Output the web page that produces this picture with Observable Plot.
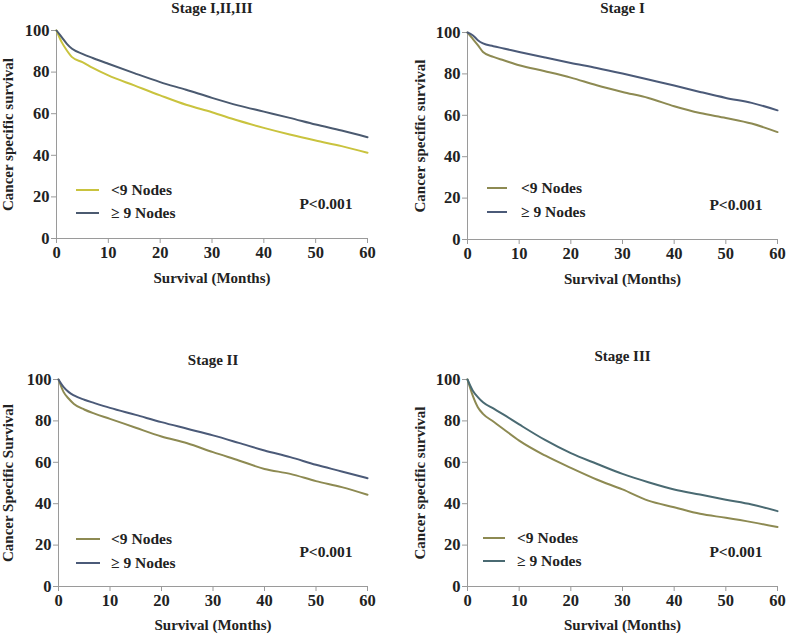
<!DOCTYPE html>
<html><head><meta charset="utf-8">
<script src="https://cdn.jsdelivr.net/npm/d3@7"></script>
<script src="https://cdn.jsdelivr.net/npm/@observablehq/plot@0.6"></script>
<style>
body{margin:0;background:#fff;}
#wrap{position:relative;width:787px;height:635px;overflow:hidden;background:#fff;}
.panel{position:absolute;}
.panel svg{overflow:visible;}
</style></head>
<body><div id="wrap"></div>
<script>
const months = [0, 1, 2, 3, 5, 7, 10, 15, 20, 25, 30, 35, 40, 45, 50, 55, 60];

// Stage I,II,III
const allLow  = [100, 94.4, 90.4, 87.2, 84.8, 82.0, 78.4, 73.6, 68.8, 64.3, 60.7, 56.7, 53.2, 50.0, 47.1, 44.4, 41.2];
const allHigh = [100, 96.8, 93.6, 91.2, 88.8, 86.8, 84.0, 79.5, 75.2, 71.5, 67.6, 64.0, 61.0, 58.0, 54.8, 51.9, 48.7];
// Stage I
const s1Low   = [100, 97.0, 93.9, 90.6, 88.2, 86.6, 84.2, 81.3, 78.2, 74.5, 71.3, 68.4, 64.4, 61.1, 58.7, 56.0, 51.9];
const s1High  = [100, 98.7, 96.3, 94.7, 93.4, 92.3, 90.6, 87.9, 85.3, 82.9, 80.2, 77.3, 74.4, 71.3, 68.4, 66.0, 62.4];
// Stage II
const s2Low   = [100, 93.9, 90.7, 88.2, 85.5, 83.5, 81.0, 76.7, 72.5, 69.2, 64.9, 60.9, 56.8, 54.4, 50.9, 48.0, 44.3];
const s2High  = [100, 96.3, 93.9, 92.3, 90.2, 88.6, 86.3, 82.9, 79.4, 76.2, 73.0, 69.4, 65.7, 62.5, 58.8, 55.6, 52.3];
// Stage III
const s3Low   = [100, 92.3, 86.6, 83.4, 79.7, 76.0, 70.5, 63.3, 57.3, 51.7, 46.9, 41.5, 38.3, 35.1, 33.2, 31.1, 28.7];
const s3High  = [100, 94.7, 91.5, 89.0, 86.0, 83.0, 78.3, 70.8, 64.4, 59.3, 54.4, 50.4, 46.9, 44.4, 41.9, 39.6, 36.4];

const xTicks = [0, 10, 20, 30, 40, 50, 60];
const yTicks = [0, 20, 40, 60, 80, 100];
const groups = ["<9 Nodes", "\u2265 9 Nodes"];
const pText = "P<0.001";
const xTitle = "Survival (Months)";

const FONT = "'Liberation Serif', 'Times New Roman', serif";

const panels = [
  {title: "Stage I,II,III", ylabel: "Cancer specific survival", low: allLow, high: allHigh,
   colors: ["#c9c33e", "#4b5a70"], left: 0, top: 0, width: 390, height: 300,
   m: {l: 56, r: 23, t: 30, b: 62}, titleDy: -22, ylabDx: -48, xlabDy: 40,
   leg: {x1: 76, x2: 99, tx: 111, y: [190, 213]}, p: {x: 326, y: 204}},
  {title: "Stage I", ylabel: "Cancer specific survival", low: s1Low, high: s1High,
   colors: ["#8d8a52", "#4b5a78"], left: 395, top: 0, width: 392, height: 300,
   m: {l: 72, r: 10, t: 32, b: 61}, titleDy: -24, ylabDx: -47, xlabDy: 40,
   leg: {x1: 92, x2: 112, tx: 126, y: [188, 212]}, p: {x: 341, y: 205}},
  {title: "Stage II", ylabel: "Cancer Specific Survival", low: s2Low, high: s2High,
   colors: ["#8d8a52", "#4b5a78"], left: 0, top: 330, width: 390, height: 305,
   m: {l: 58, r: 23, t: 49, b: 49}, titleDy: -19, ylabDx: -50, xlabDy: 39,
   leg: {x1: 76, x2: 100, tx: 111, y: [209, 233]}, p: {x: 326, y: 222}},
  {title: "Stage III", ylabel: "Cancer specific survival", low: s3Low, high: s3High,
   colors: ["#8d8a52", "#4a6a72"], left: 395, top: 330, width: 392, height: 305,
   m: {l: 72, r: 10, t: 49, b: 49}, titleDy: -23, ylabDx: -47, xlabDy: 39,
   leg: {x1: 88, x2: 110, tx: 122, y: [208, 231]}, p: {x: 341, y: 222}}
];

const wrap = document.getElementById("wrap");

for (const P of panels) {
  const data = [];
  months.forEach((m, i) => {
    data.push({month: m, surv: P.low[i], group: groups[0]});
    data.push({month: m, surv: P.high[i], group: groups[1]});
  });
  const chart = Plot.plot({
    width: P.width, height: P.height,
    marginLeft: P.m.l, marginRight: P.m.r, marginTop: P.m.t, marginBottom: P.m.b,
    style: {fontFamily: FONT, background: "transparent", overflow: "visible"},
    x: {domain: [0, 60], ticks: xTicks, label: null},
    y: {domain: [0, 100], ticks: yTicks, label: null},
    color: {domain: groups, range: P.colors},
    marks: [
      Plot.ruleX([0], {stroke: "#9a9a9a", strokeWidth: 1}),
      Plot.ruleY([0], {stroke: "#9a9a9a", strokeWidth: 1}),
      Plot.axisX({ticks: xTicks, tickSize: 5, tickPadding: 3, stroke: "#9a9a9a",
        fontSize: 16.5, fontWeight: "bold", fill: "#222", label: null}),
      Plot.axisY({ticks: yTicks, tickSize: 5, tickPadding: 2, stroke: "#9a9a9a",
        fontSize: 16.5, fontWeight: "bold", fill: "#222", label: null}),
      Plot.line(data, {x: "month", y: "surv", z: "group", stroke: "group", strokeWidth: 2, curve: "monotone-x"}),
      Plot.text([P.title], {frameAnchor: "top", dy: P.titleDy, lineAnchor: "middle", textAnchor: "middle",
        fontSize: 15, fontWeight: "bold", fill: "#222"}),
      Plot.text([xTitle], {frameAnchor: "bottom", dy: P.xlabDy, lineAnchor: "middle", textAnchor: "middle",
        fontSize: 15, fontWeight: "bold", fill: "#222"}),
      Plot.text([P.ylabel], {frameAnchor: "left", dx: P.ylabDx, rotate: -90, lineAnchor: "middle", textAnchor: "middle",
        fontSize: 15, fontWeight: "bold", fill: "#222"})
    ]
  });
  const div = document.createElement("div");
  div.className = "panel";
  div.style.left = P.left + "px";
  div.style.top = P.top + "px";
  div.appendChild(chart);
  wrap.appendChild(div);

  const svg = d3.select(chart);
  const g = svg.append("g").attr("font-family", FONT).attr("font-weight", "bold")
    .attr("font-size", 15.5).attr("fill", "#222").attr("text-anchor", "start");
  groups.forEach((name, i) => {
    g.append("line").attr("x1", P.leg.x1).attr("x2", P.leg.x2)
      .attr("y1", P.leg.y[i]).attr("y2", P.leg.y[i])
      .attr("stroke", P.colors[i]).attr("stroke-width", 2);
    g.append("text").attr("x", P.leg.tx).attr("y", P.leg.y[i]).attr("dy", "0.35em")
      .attr("text-anchor", "start").text(name);
  });
  g.append("text").attr("x", P.p.x).attr("y", P.p.y).attr("dy", "0.35em")
    .attr("text-anchor", "middle").text(pText);
}
</script></body></html>
